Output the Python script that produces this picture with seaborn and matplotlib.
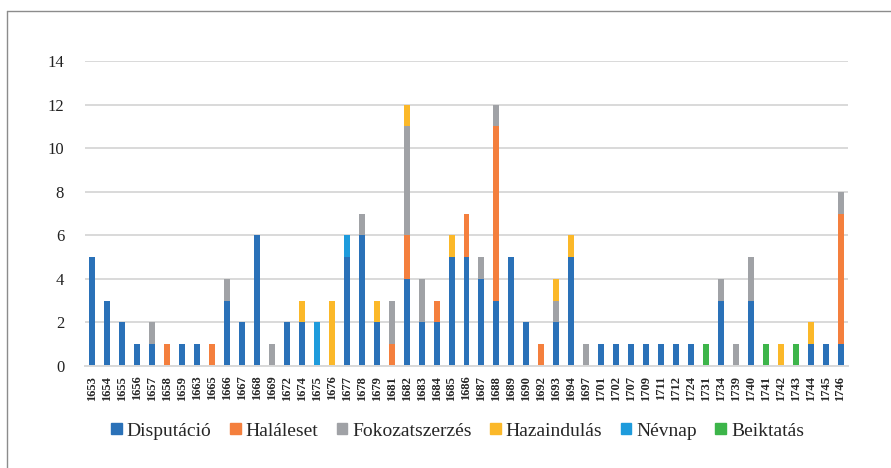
import matplotlib
matplotlib.use("Agg")
import matplotlib.pyplot as plt
import matplotlib.lines as mlines
import matplotlib.patches as mpatches
import seaborn as sns
import numpy as np

years = [
    "1653", "1654", "1655", "1656", "1657", "1658", "1659", "1663", "1665", "1666",
    "1667", "1668", "1669", "1672", "1674", "1675", "1676", "1677", "1678", "1679",
    "1681", "1682", "1683", "1684", "1685", "1686", "1687", "1688", "1689", "1690",
    "1692", "1693", "1694", "1697", "1701", "1702", "1707", "1709", "1711", "1712",
    "1724", "1731", "1734", "1739", "1740", "1741", "1742", "1743", "1744", "1745",
    "1746",
]

disputacio = [5, 3, 2, 1, 1, 0, 1, 1, 0, 3,
              2, 6, 0, 2, 2, 0, 0, 5, 6, 2,
              0, 4, 2, 2, 5, 5, 4, 3, 5, 2,
              0, 2, 5, 0, 1, 1, 1, 1, 1, 1,
              1, 0, 3, 0, 3, 0, 0, 0, 1, 1,
              1]
haleset = [0, 0, 0, 0, 0, 1, 0, 0, 1, 0,
           0, 0, 0, 0, 0, 0, 0, 0, 0, 0,
           1, 2, 0, 1, 0, 2, 0, 8, 0, 0,
           1, 0, 0, 0, 0, 0, 0, 0, 0, 0,
           0, 0, 0, 0, 0, 0, 0, 0, 0, 0,
           6]
fokozat = [0, 0, 0, 0, 1, 0, 0, 0, 0, 1,
           0, 0, 1, 0, 0, 0, 0, 0, 1, 0,
           2, 5, 2, 0, 0, 0, 1, 1, 0, 0,
           0, 1, 0, 1, 0, 0, 0, 0, 0, 0,
           0, 0, 1, 1, 2, 0, 0, 0, 0, 0,
           1]
hazaindulas = [0, 0, 0, 0, 0, 0, 0, 0, 0, 0,
               0, 0, 0, 0, 1, 0, 3, 0, 0, 1,
               0, 1, 0, 0, 1, 0, 0, 0, 0, 0,
               0, 1, 1, 0, 0, 0, 0, 0, 0, 0,
               0, 0, 0, 0, 0, 0, 1, 0, 1, 0,
               0]
nevnap = [0, 0, 0, 0, 0, 0, 0, 0, 0, 0,
          0, 0, 0, 0, 0, 2, 0, 1, 0, 0,
          0, 0, 0, 0, 0, 0, 0, 0, 0, 0,
          0, 0, 0, 0, 0, 0, 0, 0, 0, 0,
          0, 0, 0, 0, 0, 0, 0, 0, 0, 0,
          0]
beiktatas = [0, 0, 0, 0, 0, 0, 0, 0, 0, 0,
             0, 0, 0, 0, 0, 0, 0, 0, 0, 0,
             0, 0, 0, 0, 0, 0, 0, 0, 0, 0,
             0, 0, 0, 0, 0, 0, 0, 0, 0, 0,
             0, 1, 0, 0, 0, 1, 0, 1, 0, 0,
             0]

series_names = ["Disputáció", "Haláleset", "Fokozatszerzés", "Hazaindulás", "Névnap", "Beiktatás"]
series_values = [disputacio, haleset, fokozat, hazaindulas, nevnap, beiktatas]
colors = ["#2A71B8", "#F47F3D", "#A0A2A6", "#FBB829", "#1E9BDC", "#3DB54A"]

sns.set_style("white")
plt.rcParams["font.family"] = ["Liberation Serif", "DejaVu Serif"]

fig = plt.figure(figsize=(8.91, 4.68), dpi=100)
ax = fig.add_axes([85 / 891, 1 - 366 / 468, (848 - 85) / 891, (366 - 61) / 468])

bottom = np.zeros(len(years))
for name, vals, c in zip(series_names, series_values, colors):
    sns.barplot(x=years, y=vals, bottom=bottom, color=c, width=0.4, saturation=1,
                linewidth=0, order=years, ax=ax, errorbar=None)
    bottom = bottom + np.array(vals)

ax.set_ylim(0, 14)
ax.set_xlim(-0.5, len(years) - 0.5)
ax.set_yticks(range(0, 15, 2))
ax.yaxis.grid(True, color="#D9D9D9", linewidth=1.4)
ax.set_axisbelow(True)
for s in ["top", "right", "left"]:
    ax.spines[s].set_visible(False)
ax.spines["bottom"].set_color("#D9D9D9")
ax.spines["bottom"].set_linewidth(1.4)
ax.tick_params(axis="y", length=0, pad=15, labelsize=12, colors="#222222")
ax.tick_params(axis="x", length=0, pad=7, labelsize=9)
for lbl in ax.get_xticklabels():
    lbl.set_rotation(90)
    lbl.set_fontweight("bold")
ax.set_xlabel("")
ax.set_ylabel("")

handles = [mpatches.Patch(color=c, label=n) for n, c in zip(series_names, colors)]
fig.legend(handles=handles, loc="center", bbox_to_anchor=(0.5135, 1 - 431 / 468),
           ncol=6, frameon=False, fontsize=14, handlelength=0.55, handleheight=0.55,
           handletextpad=0.25, columnspacing=0.95)

# chart border
fig.add_artist(mlines.Line2D([7 / 891, 7 / 891], [0, 1 - 11 / 468], transform=fig.transFigure,
                             color="#8C8C8C", linewidth=1))
fig.add_artist(mlines.Line2D([7 / 891, 1], [1 - 11 / 468, 1 - 11 / 468], transform=fig.transFigure,
                             color="#8C8C8C", linewidth=1))

fig.savefig("out.png", dpi=100)
